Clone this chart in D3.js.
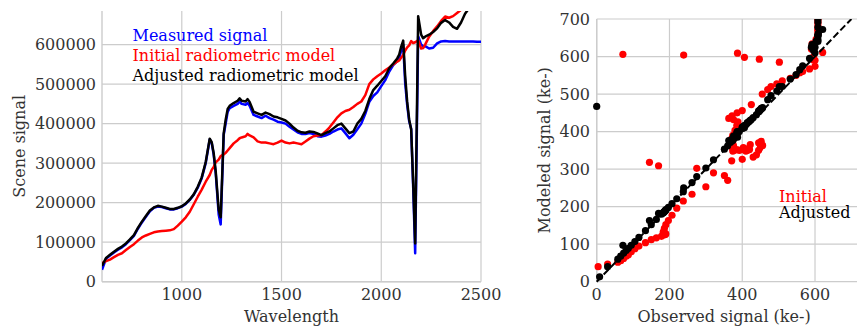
<!DOCTYPE html>
<html><head><meta charset="utf-8">
<script src="https://cdn.jsdelivr.net/npm/d3@7"></script>
<style>
body{margin:0;background:#fff;}
svg text{font-family:"DejaVu Serif", serif;}
</style></head><body>
<svg id="chart" width="857" height="328"></svg>
<script>
// ---- data (signals in thousands of counts / ke-) ----
const wavelengths = [
  600,620,640,660,680,700,720,740,760,780,
  800,820,840,860,880,900,920,940,960,980,
  1000,1020,1040,1060,1080,1100,1120,1140,1150,1160,
  1170,1185,1195,1210,1220,1230,1240,1260,1280,1290,
  1300,1320,1330,1340,1360,1380,1400,1420,1440,1460,
  1480,1500,1520,1540,1560,1580,1600,1620,1640,1660,
  1680,1700,1720,1740,1760,1780,1800,1820,1840,1860,
  1880,1900,1920,1940,1960,1980,2000,2020,2040,2060,
  2080,2090,2100,2110,2120,2130,2140,2150,2160,2170,
  2185,2200,2210,2220,2240,2260,2280,2300,2320,2340,
  2360,2380,2400,2420,2440,2460,2480,2500];
const measured = [
  30,58,66,74,81,87,95,105,116,134,
  150,164,178,187,190,189,186,183,183,186,
  190,197,207,220,238,262,300,360,351,321,
  275,170,145,371,400,430,439,445,450,456,
  450,448,452,445,422,418,414,420,414,410,
  405,403,400,392,385,378,374,374,376,374,
  368,367,370,374,380,385,388,376,363,372,
  386,400,425,455,470,479,495,510,532,548,
  558,566,585,600,502,447,406,387,239,72,
  621,600,596,596,590,592,603,608,609,608,
  608,608,608,608,608,608,607,607];
const initialModel = [
  47,52,56,62,68,72,80,88,95,104,
  112,117,121,125,127,128,129,130,133,142,
  152,163,177,196,215,233,253,270,283,290,
  302,309,318,322,326,332,338,350,358,363,
  365,368,374,370,365,355,352,352,350,348,
  352,357,352,350,352,350,348,355,362,368,
  370,371,380,390,403,416,426,432,435,442,
  450,456,472,500,512,520,527,535,542,550,
  557,560,567,574,585,593,598,609,604,606,
  611,590,591,600,620,634,646,660,671,668,
  672,680,688,695,702,710,718,725];
const adjustedModel = [
  40,60,68,76,83,89,97,107,118,136,
  152,166,180,188,192,190,187,184,184,187,
  191,198,208,221,240,264,303,362,353,325,
  280,182,163,375,410,437,445,452,458,464,
  458,456,462,455,430,426,422,428,424,418,
  416,412,408,400,390,382,378,377,380,379,
  375,371,376,380,388,396,400,388,376,380,
  400,412,432,462,485,496,508,520,540,552,
  565,575,595,610,520,455,410,385,250,97,
  672,625,616,620,625,632,641,655,662,656,
  645,640,656,678,692,700,708,715];
// scatter-only samples (outside the plotted wavelength window)
const extraObservedInitial = [4];
const extraModeledInitial = [40];
const extraObservedAdjusted = [0, 8];
const extraModeledAdjusted = [467, 13];

const leftXTicks = [1000, 1500, 2000, 2500];
const leftYTicks = [0, 100000, 200000, 300000, 400000, 500000, 600000];
const rightXTicks = [0, 200, 400, 600];
const rightYTicks = [0, 100, 200, 300, 400, 500, 600, 700];
const legendLeft = ["Measured signal", "Initial radiometric model", "Adjusted radiometric model"];
const legendRight = ["Initial", "Adjusted"];

const COL = {blue:"#0000ff", red:"#ff0000", black:"#000000", grid:"#cccccc", text:"#333333"};
const FS = 16;

const svg = d3.select("#chart");

// ---------- LEFT PANEL ----------
const L = {x0:102, x1:481, y0:11, y1:281.7};
const xL = d3.scaleLinear().domain([600, 2500]).range([L.x0, L.x1]);
const yL = d3.scaleLinear().domain([0, 685000]).range([L.y1, L.y0]);

const gL = svg.append("g");
gL.selectAll("line.gx").data(leftXTicks).join("line")
  .attr("x1", d=>xL(d)).attr("x2", d=>xL(d)).attr("y1", L.y0).attr("y2", L.y1)
  .attr("stroke", COL.grid).attr("stroke-width", 1.2);
gL.selectAll("line.gy").data(leftYTicks).join("line")
  .attr("x1", L.x0).attr("x2", L.x1).attr("y1", d=>yL(d)).attr("y2", d=>yL(d))
  .attr("stroke", COL.grid).attr("stroke-width", 1.2);
gL.append("line").attr("x1", L.x0).attr("x2", L.x0).attr("y1", L.y0).attr("y2", L.y1)
  .attr("stroke", COL.grid).attr("stroke-width", 1.4);
gL.append("line").attr("x1", L.x0).attr("x2", L.x1).attr("y1", L.y1).attr("y2", L.y1)
  .attr("stroke", COL.grid).attr("stroke-width", 1.4);

svg.append("clipPath").attr("id","clipL").append("rect")
  .attr("x", L.x0).attr("y", L.y0).attr("width", L.x1-L.x0).attr("height", L.y1-L.y0);

const idx = d3.range(wavelengths.length);
const lineOf = arr => d3.line().x(i=>xL(wavelengths[i])).y(i=>yL(arr[i]*1000));
const series = [[measured, COL.blue], [initialModel, COL.red], [adjustedModel, COL.black]];
const lines = gL.append("g").attr("clip-path", "url(#clipL)");
series.forEach(([arr, c]) => {
  lines.append("path").attr("d", lineOf(arr)(idx)).attr("fill","none")
    .attr("stroke", c).attr("stroke-width", 2.5).attr("stroke-linejoin","round");
});

gL.selectAll("text.xt").data(leftXTicks).join("text")
  .attr("x", d=>xL(d)).attr("y", 300).attr("text-anchor","middle")
  .attr("font-size", FS).attr("fill", COL.text).text(d=>d);
gL.selectAll("text.yt").data(leftYTicks).join("text")
  .attr("x", 96).attr("y", d=>yL(d)+5.5).attr("text-anchor","end")
  .attr("font-size", FS).attr("fill", COL.text).text(d=>d);
gL.append("text").attr("x", (L.x0+L.x1)/2).attr("y", 321.5).attr("text-anchor","middle")
  .attr("font-size", FS).attr("fill", COL.text).text("Wavelength");
gL.append("text").attr("transform", `translate(25,${(L.y0+L.y1)/2}) rotate(-90)`)
  .attr("text-anchor","middle").attr("font-size", FS).attr("fill", COL.text).text("Scene signal");
const legCols = [COL.blue, COL.red, COL.black];
gL.selectAll("text.leg").data(legendLeft).join("text")
  .attr("x", 132.5).attr("y", (d,i)=>40.7 + i*20)
  .attr("font-size", FS).attr("fill", (d,i)=>legCols[i]).text(d=>d);

// ---------- RIGHT PANEL ----------
const R = {x0:596.7, x1:851.4, y0:19, y1:281.7};
const xR = d3.scaleLinear().domain([0, 700]).range([R.x0, R.x1]);
const yR = d3.scaleLinear().domain([0, 700]).range([R.y1, R.y0]);
const gR = svg.append("g");
gR.selectAll("line.gx").data(rightXTicks).join("line")
  .attr("x1", d=>xR(d)).attr("x2", d=>xR(d)).attr("y1", R.y0).attr("y2", R.y1)
  .attr("stroke", COL.grid).attr("stroke-width", 1.2);
gR.selectAll("line.gy").data(rightYTicks).join("line")
  .attr("x1", R.x0).attr("x2", 857).attr("y1", d=>yR(d)).attr("y2", d=>yR(d))
  .attr("stroke", COL.grid).attr("stroke-width", 1.2);
gR.append("line").attr("x1", R.x0).attr("x2", R.x0).attr("y1", R.y0).attr("y2", R.y1)
  .attr("stroke", COL.grid).attr("stroke-width", 1.4);

svg.append("clipPath").attr("id","clipR").append("rect")
  .attr("x", R.x0-4).attr("y", R.y0).attr("width", 857-R.x0+4).attr("height", R.y1-R.y0+4);
const pts = gR.append("g").attr("clip-path","url(#clipR)");
const redPts = idx.map(i=>[measured[i], initialModel[i]])
  .concat(extraObservedInitial.map((v,i)=>[v, extraModeledInitial[i]]));
const blackPts = idx.map(i=>[measured[i], adjustedModel[i]])
  .concat(extraObservedAdjusted.map((v,i)=>[v, extraModeledAdjusted[i]]));
pts.selectAll("circle.r").data(redPts).join("circle")
  .attr("cx", d=>xR(d[0])).attr("cy", d=>yR(d[1])).attr("r", 3.6).attr("fill", COL.red);
pts.selectAll("circle.k").data(blackPts).join("circle")
  .attr("cx", d=>xR(d[0])).attr("cy", d=>yR(d[1])).attr("r", 3.6).attr("fill", COL.black);
pts.append("path").attr("d", d3.line().x(d=>xR(d)).y(d=>yR(d))([0, 700]))
  .attr("stroke", COL.black).attr("stroke-width", 2).attr("stroke-dasharray","7,3").attr("fill","none");

gR.selectAll("text.xt").data(rightXTicks).join("text")
  .attr("x", d=>xR(d)).attr("y", 300).attr("text-anchor","middle")
  .attr("font-size", FS).attr("fill", COL.text).text(d=>d);
gR.selectAll("text.yt").data(rightYTicks).join("text")
  .attr("x", 590).attr("y", d=>yR(d)+5.5).attr("text-anchor","end")
  .attr("font-size", FS).attr("fill", COL.text).text(d=>d);
gR.append("text").attr("x", (R.x0+R.x1)/2).attr("y", 321.5).attr("text-anchor","middle")
  .attr("font-size", FS).attr("fill", COL.text).text("Observed signal (ke-)");
gR.append("text").attr("transform", `translate(550,${(R.y0+R.y1)/2}) rotate(-90)`)
  .attr("text-anchor","middle").attr("font-size", FS).attr("fill", COL.text).text("Modeled signal (ke-)");
gR.selectAll("text.leg").data(legendRight).join("text")
  .attr("x", 779).attr("y", (d,i)=>201.5 + i*16)
  .attr("font-size", FS).attr("fill", (d,i)=>[COL.red, COL.black][i]).text(d=>d);
</script>
</body></html>
